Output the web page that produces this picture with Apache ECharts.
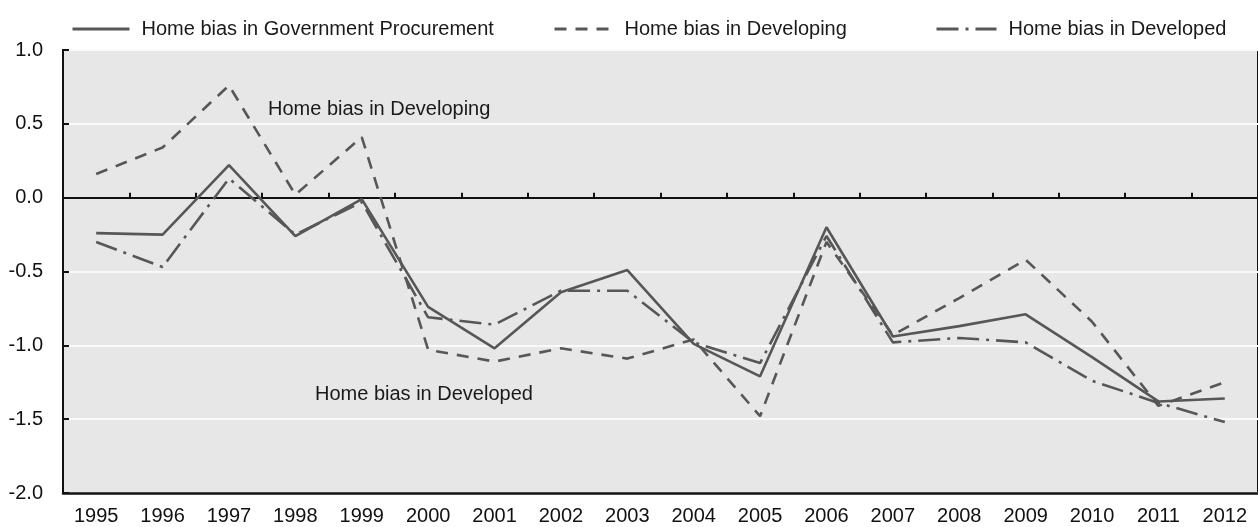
<!DOCTYPE html>
<html>
<head>
<meta charset="utf-8">
<script src="https://cdn.jsdelivr.net/npm/echarts@6/dist/echarts.min.js"></script>
<style>
html,body{margin:0;padding:0;background:#fff;}
#chart{width:1258px;height:527px;}
</style>
</head>
<body>
<div id="chart"></div>
<script>
var years = ['1995','1996','1997','1998','1999','2000','2001','2002','2003','2004','2005','2006','2007','2008','2009','2010','2011','2012'];
var govProcurement = [-0.24, -0.25, 0.22, -0.26, -0.01, -0.74, -1.02, -0.64, -0.49, -0.99, -1.21, -0.20, -0.94, -0.87, -0.79, -1.08, -1.38, -1.36];
var developing = [0.16, 0.34, 0.76, 0.02, 0.41, -1.03, -1.11, -1.02, -1.09, -0.96, -1.48, -0.30, -0.93, -0.68, -0.42, -0.84, -1.41, -1.25];
var developed = [-0.30, -0.47, 0.13, -0.25, -0.03, -0.81, -0.86, -0.63, -0.63, -0.98, -1.12, -0.26, -0.98, -0.95, -0.98, -1.24, -1.39, -1.52];
var seriesNames = ['Home bias in Government Procurement', 'Home bias in Developing', 'Home bias in Developed'];
var annotations = ['Home bias in Developing', 'Home bias in Developed'];

var FONT = "'Liberation Sans', Arial, sans-serif";
var LINE = '#575757';

var chart = echarts.init(document.getElementById('chart'), null, {renderer: 'canvas'});

function legendAt(left, name, width) {
  return {
    left: left, top: 14, data: [name],
    itemWidth: width, itemHeight: 14,
    itemStyle: {opacity: 0},
    lineStyle: {width: 3},
    textStyle: {fontFamily: FONT, fontSize: 20, color: '#1a1a1a', padding: [0, 0, 0, 7]},
    selectedMode: false
  };
}

chart.setOption({
  animation: false,
  backgroundColor: '#fff',
  legend: [
    legendAt(66, seriesNames[0], 57),
    legendAt(548, seriesNames[1], 58),
    legendAt(930, seriesNames[2], 60)
  ],
  grid: {
    left: 63, top: 50, width: 1200, height: 443,
    show: true, backgroundColor: '#e7e7e7', borderColor: '#111', borderWidth: 2,
    containLabel: false
  },
  xAxis: [
    {
      type: 'category', data: years, position: 'bottom',
      axisLine: {onZero: false, lineStyle: {color: '#111', width: 2.5}},
      axisTick: {show: false},
      axisLabel: {fontFamily: FONT, fontSize: 20, color: '#111', margin: 13, interval: 0},
      splitLine: {show: false}
    },
    {
      type: 'category', data: years, position: 'top',
      axisLine: {onZero: true, lineStyle: {color: '#111', width: 2}},
      axisTick: {show: true, inside: false, length: 5, lineStyle: {color: '#111', width: 2}},
      axisLabel: {show: false},
      splitLine: {show: false}
    }
  ],
  yAxis: {
    type: 'value', min: -2, max: 1, interval: 0.5,
    axisLine: {show: true, lineStyle: {color: '#111', width: 2}},
    axisTick: {show: true, inside: true, length: 6, lineStyle: {color: '#111', width: 2}},
    axisLabel: {fontFamily: FONT, fontSize: 20, color: '#111', margin: 20,
      formatter: function (v) { return v.toFixed(1); }},
    splitLine: {show: true, lineStyle: {color: '#fafafa', width: 2}}
  },
  series: [
    {name: seriesNames[0], type: 'line', data: govProcurement, symbol: 'none',
      lineStyle: {color: LINE, width: 2.6, type: 'solid'}, itemStyle: {color: LINE}, z: 5},
    {name: seriesNames[1], type: 'line', data: developing, symbol: 'none',
      lineStyle: {color: LINE, width: 2.6, type: [12, 9]}, itemStyle: {color: LINE}, z: 4},
    {name: seriesNames[2], type: 'line', data: developed, symbol: 'none',
      lineStyle: {color: LINE, width: 2.6, type: [22, 7, 3, 7]}, itemStyle: {color: LINE}, z: 4}
  ],
  graphic: [
    {type: 'text', left: 268, top: 99, z: 10,
      style: {text: annotations[0], font: "20px " + FONT, fill: '#1a1a1a'}},
    {type: 'text', left: 315, top: 384, z: 10,
      style: {text: annotations[1], font: "20px " + FONT, fill: '#1a1a1a'}}
  ]
});
</script>
</body>
</html>
